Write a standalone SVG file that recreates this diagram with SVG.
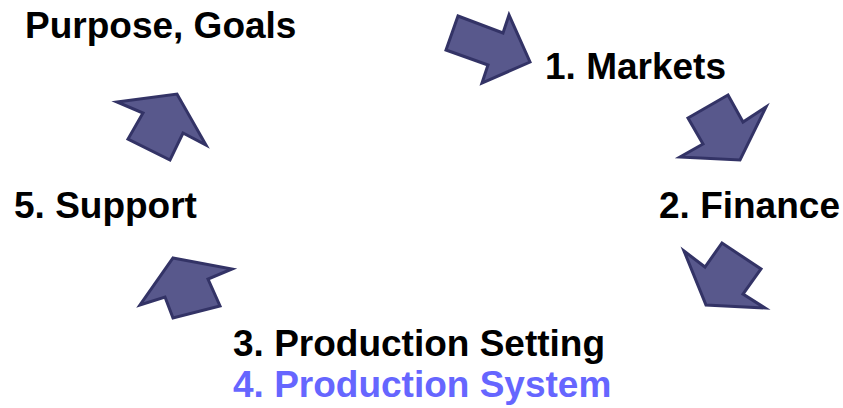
<svg xmlns="http://www.w3.org/2000/svg" width="843" height="408" viewBox="0 0 843 408">
  <style>
    .lbl { font-family: "Liberation Sans", Arial, sans-serif; font-weight: bold; font-size: 37px; fill: #000000; }
    .hl { fill: #6666ff; }
    .arrow { fill: #58588c; stroke: #333366; stroke-width: 3; stroke-linejoin: miter; }
  </style>
  <rect width="843" height="408" fill="#ffffff"/>

  <g id="purpose"><text class="lbl" x="25" y="38">Purpose, Goals</text></g>
  <g id="markets"><text class="lbl" x="545" y="79">1. Markets</text></g>
  <g id="finance"><text class="lbl" x="659" y="218">2. Finance</text></g>
  <g id="support"><text class="lbl" x="14" y="218">5. Support</text></g>
  <g id="setting"><text class="lbl" x="233" y="356">3. Production Setting</text></g>
  <g id="system"><text class="lbl hl" x="233" y="397">4. Production System</text></g>

  <g id="connectors">
    <polygon class="arrow" points="458,16 503,33 509,15 530,62 482,83 488,65 446,50"/>
    <polygon class="arrow" points="728,95 743,122 766,107 740,160 680,157 703,144 688,118"/>
    <polygon class="arrow" points="684,251 705,267 722,243 761,269 743,294 765,308 706,305"/>
    <polygon class="arrow" points="173,258 232,269 208,279 220,306 173,318 165,297 140,305"/>
    <polygon class="arrow" points="117,102 177,94 206,145 183,133 170,160 128,139 143,113"/>
  </g>
</svg>
